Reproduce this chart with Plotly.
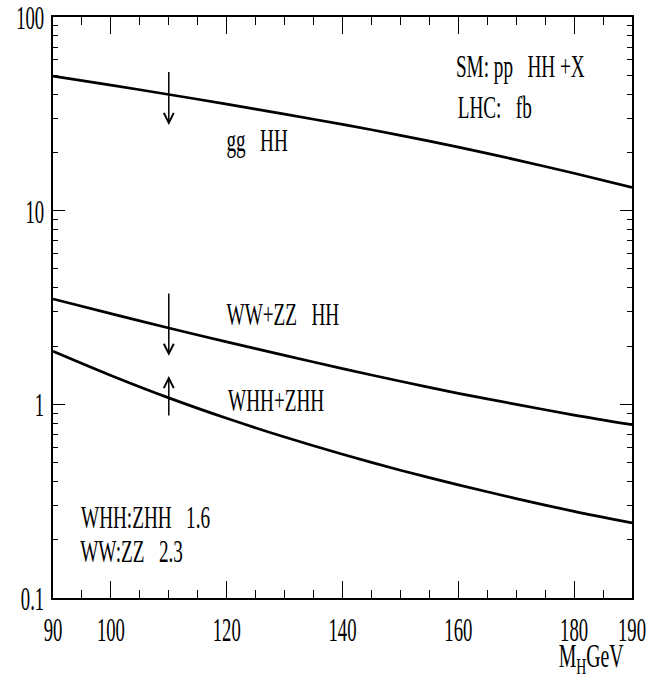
import numpy as np
import plotly.graph_objects as go

# Higgs mass grid (GeV)
mh = [90, 100, 110, 120, 130, 140, 150, 160, 170, 180, 190]

# pp -> HH + X cross sections at the LHC (fb)
sigma_gg = [49.5, 44.5, 39.8, 35.5, 31.5, 27.9, 24.5, 21.3, 18.3, 15.6, 13.2]
sigma_vv = [3.50, 2.94, 2.48, 2.10, 1.79, 1.53, 1.315, 1.14, 1.00, 0.88, 0.785]
sigma_vhh = [1.88, 1.41, 1.08, 0.847, 0.678, 0.552, 0.457, 0.384, 0.326, 0.280, 0.244]

# Scale-variation arrows at M_H = 110 GeV: (tail, head) values in fb
arrow_mh = 110
arrow_gg = (53.0, 27.7)
arrow_vv = (3.8, 1.78)
arrow_vhh = (0.86, 1.40)

x_tickvals = [90, 100, 120, 140, 160, 180, 190]
x_ticktext = ["90", "100", "120", "140", "160", "180", "190"]
y_tickvals = [0.1, 1, 10, 100]
y_ticktext = ["0.1", "1", "10", "100"]
y_minor = [m * 10.0 ** e for e in (-1, 0, 1) for m in range(2, 10)]

FONT = "Liberation Serif"
INK = "black"

fig = go.Figure()
for ys in (sigma_gg, sigma_vv, sigma_vhh):
    fig.add_trace(go.Scatter(
        x=mh, y=ys, mode="lines",
        line=dict(color=INK, width=2.7, shape="spline", smoothing=0.8),
        showlegend=False, hoverinfo="skip",
    ))

for tail, head in (arrow_gg, arrow_vv, arrow_vhh):
    fig.add_annotation(
        x=arrow_mh, y=np.log10(head), ax=arrow_mh, ay=np.log10(tail),
        xref="x", yref="y", axref="x", ayref="y",
        text="", showarrow=True, arrowhead=5, arrowsize=1.3,
        arrowwidth=1.5, arrowcolor=INK,
    )

NB = "\u00a0"
labels = [
    (f"SM:{NB}pp{NB*3}HH{NB}+X", 0.8066, 0.9157),
    (f"LHC:{NB*3}fb", 0.7634, 0.8451),
    (f"gg{NB*3}HH", 0.3515, 0.7883),
    (f"WW+ZZ{NB*3}HH", 0.3964, 0.4888),
    ("WHH+ZHH", 0.3851, 0.3408),
    (f"WHH:ZHH{NB*3}1.6", 0.1589, 0.1394),
    (f"WW:ZZ{NB*3}2.3", 0.1356, 0.0809),
]
for txt, px, py in labels:
    fig.add_annotation(
        x=px, y=py, xref="paper", yref="paper", text=txt, showarrow=False,
        xanchor="center", yanchor="middle",
        font=dict(family=FONT, size=32, color=INK),
    )

fig.add_annotation(
    x=0.9292, y=-0.1033, xref="paper", yref="paper",
    text="M<sub>H</sub>GeV", showarrow=False,
    xanchor="center", yanchor="middle",
    font=dict(family=FONT, size=33, color=INK),
)

axis_common = dict(
    showgrid=False, zeroline=False, showline=True, linecolor=INK,
    linewidth=2, mirror="allticks", ticks="inside", tickcolor=INK,
    tickfont=dict(family=FONT, size=34, color=INK),
    automargin=False, ticklabeloverflow="allow",
)

fig.update_xaxes(
    range=[90, 190], tickmode="array", tickvals=x_tickvals,
    ticktext=x_ticktext, ticklen=17, tickwidth=1.3,
    minor=dict(tickmode="linear", tick0=90, dtick=5, ticks="inside",
               ticklen=8, tickwidth=1.3, tickcolor=INK),
    **axis_common,
)
fig.update_yaxes(
    type="log", range=[-1, 2], tickmode="array", tickvals=y_tickvals,
    ticktext=y_ticktext, ticklen=12, tickwidth=1.3,
    minor=dict(tickmode="array", tickvals=y_minor, ticks="inside",
               ticklen=5, tickwidth=1.3, tickcolor=INK),
    **axis_common,
)

fig.update_layout(
    width=647, height=679,
    margin=dict(l=53, r=15, t=17, b=81),
    paper_bgcolor="white", plot_bgcolor="white",
    showlegend=False,
)

# Narrow the serif lettering horizontally (tall, condensed type);
# tick numbers are set a little narrower than the labels.
squeeze_js = """
var gd = document.getElementById('{plot_id}');
gd.querySelectorAll('text').forEach(function (t) {
  var w = t.getComputedTextLength();
  if (w > 0) {
    var tick = t.closest('.xtick, .ytick') !== null;
    var k = tick ? 0.55 : 0.6;
    t.setAttribute('textLength', (w * k).toFixed(2));
    t.setAttribute('lengthAdjust', 'spacingAndGlyphs');
  }
});
"""

fig.write_html("out.html", post_script=squeeze_js)
